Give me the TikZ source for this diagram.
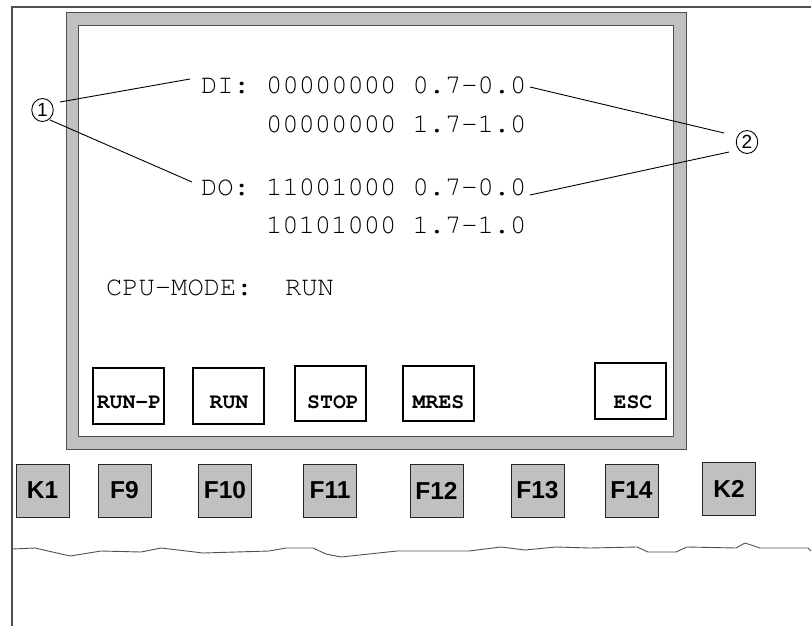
\documentclass[tikz,border=0pt]{standalone}
\usepackage[T1]{fontenc}
\usepackage{fontspec}
\newfontfamily\keyfont{Liberation Sans}
% Courier (psnfss pcr) for the display text
\newcommand\scrfont{\fontencoding{T1}\fontfamily{pcr}\selectfont}
\definecolor{panelgray}{HTML}{C0C0C0}
\definecolor{edgegray}{HTML}{505050}

\tikzset{
  outline/.style={draw=edgegray, line width=1.1pt},
  bezel/.style={draw=edgegray, line width=1pt, fill=panelgray},
  screen/.style={draw=edgegray, line width=1pt, fill=white},
  hardkey/.style={draw=black!85, line width=1pt, fill=panelgray,
    minimum width=53pt, minimum height=53pt, inner sep=0pt,
    font=\keyfont\bfseries\fontsize{24.5}{25}\selectfont},
  softkey/.style={draw=black, line width=2pt, minimum width=71pt,
    minimum height=56pt, inner sep=0pt},
  softlabel/.style={anchor=base, inner sep=0pt,
    font=\scrfont\bfseries\fontsize{21.5}{22}\selectfont},
  scrtext/.style={anchor=base west, inner sep=0pt,
    font=\scrfont\fontsize{27.1}{28}\selectfont},
  callout/.style={ellipse, draw=black, line width=0.9pt, minimum width=21.5pt,
    minimum height=23pt, inner sep=0pt, font=\keyfont\fontsize{19}{19}\selectfont},
  leader/.style={draw=black, line width=0.9pt},
}
\usetikzlibrary{shapes.geometric}

\begin{document}
\begin{tikzpicture}[x=1pt,y=-1pt]
\useasboundingbox (0,0) rectangle (811,626);

% housing edge (top and left) and the torn-off lower edge
\draw[outline] (811,7) -- (12,7) -- (12,626);
\draw[outline, line width=0.9pt] (12,549) -- (35,548) -- (70,556) -- (101,551)
  -- (141,552) -- (161,548) -- (203,553) -- (269,551) -- (286,548)
  -- (313,548) -- (326,554) -- (341,557) -- (397,551) -- (469,551)
  -- (501,547) -- (525,550) -- (556,547) -- (590,548) -- (637,547)
  -- (648,552) -- (676,552) -- (687,547) -- (736,548) -- (745,543)
  -- (760,548) -- (808,548) -- (811,551);

% display bezel and screen
\draw[bezel] (66,13) rectangle (686,449);
\draw[screen] (78,26) rectangle (673,436);

% display lines
\node[scrtext] (di)  at (201,93)  {DI: 00000000 0.7\textendash0.0};
\node[scrtext] (di2) at (266,132) {00000000 1.7\textendash1.0};
\node[scrtext] (do)  at (201,195) {DO: 11001000 0.7\textendash0.0};
\node[scrtext] (do2) at (266,233) {10101000 1.7\textendash1.0};
\node[scrtext] (cpu) at (106,295) {CPU-MODE:~~RUN};

% soft keys on the screen
\node[softkey] (sk1) at (128.5,396)   {};
\node[softkey] (sk2) at (228.5,396)   {};
\node[softkey, minimum height=55pt] (sk3) at (330.5,393.5) {};
\node[softkey, minimum height=55pt] (sk4) at (438.5,393.5) {};
\node[softkey] (sk5) at (630.5,391)   {};
\node[softlabel] (sl1) at (129,408)   {RUN-P};
\node[softlabel] (sl2) at (229,408)   {RUN};
\node[softlabel] (sl3) at (333,408)   {STOP};
\node[softlabel] (sl4) at (438.5,408) {MRES};
\node[softlabel] (sl5) at (633,408)   {ESC};

% function keys below the display
\node[hardkey] (k1)  at (42.5,490.5)  {K1};
\node[hardkey] (f9)  at (124.5,490.5) {F9};
\node[hardkey] (f10) at (225,490.5)   {F10};
\node[hardkey] (f11) at (330,490.5)   {F11};
\node[hardkey] (f12) at (436.5,490.5) {F12};
\node[hardkey] (f13) at (537.5,490.5) {F13};
\node[hardkey] (f14) at (631.5,490.5) {F14};
\node[hardkey] (k2)  at (729,489)     {K2};

% callout markers with their leader lines
\node[callout] (c1) at (42.5,110) {1};
\node[callout] (c2) at (747,142)  {2};
\coordinate (a1) at (60,102);  \coordinate (b1) at (190,79);
\coordinate (a2) at (50,120);  \coordinate (b2) at (192,182);
\coordinate (a3) at (724,133); \coordinate (b3) at (530,87);
\coordinate (a4) at (729,152); \coordinate (b4) at (530,195);
\draw[leader] (a1) -- (b1);
\draw[leader] (a2) -- (b2);
\draw[leader] (a3) -- (b3);
\draw[leader] (a4) -- (b4);
\end{tikzpicture}
\end{document}
